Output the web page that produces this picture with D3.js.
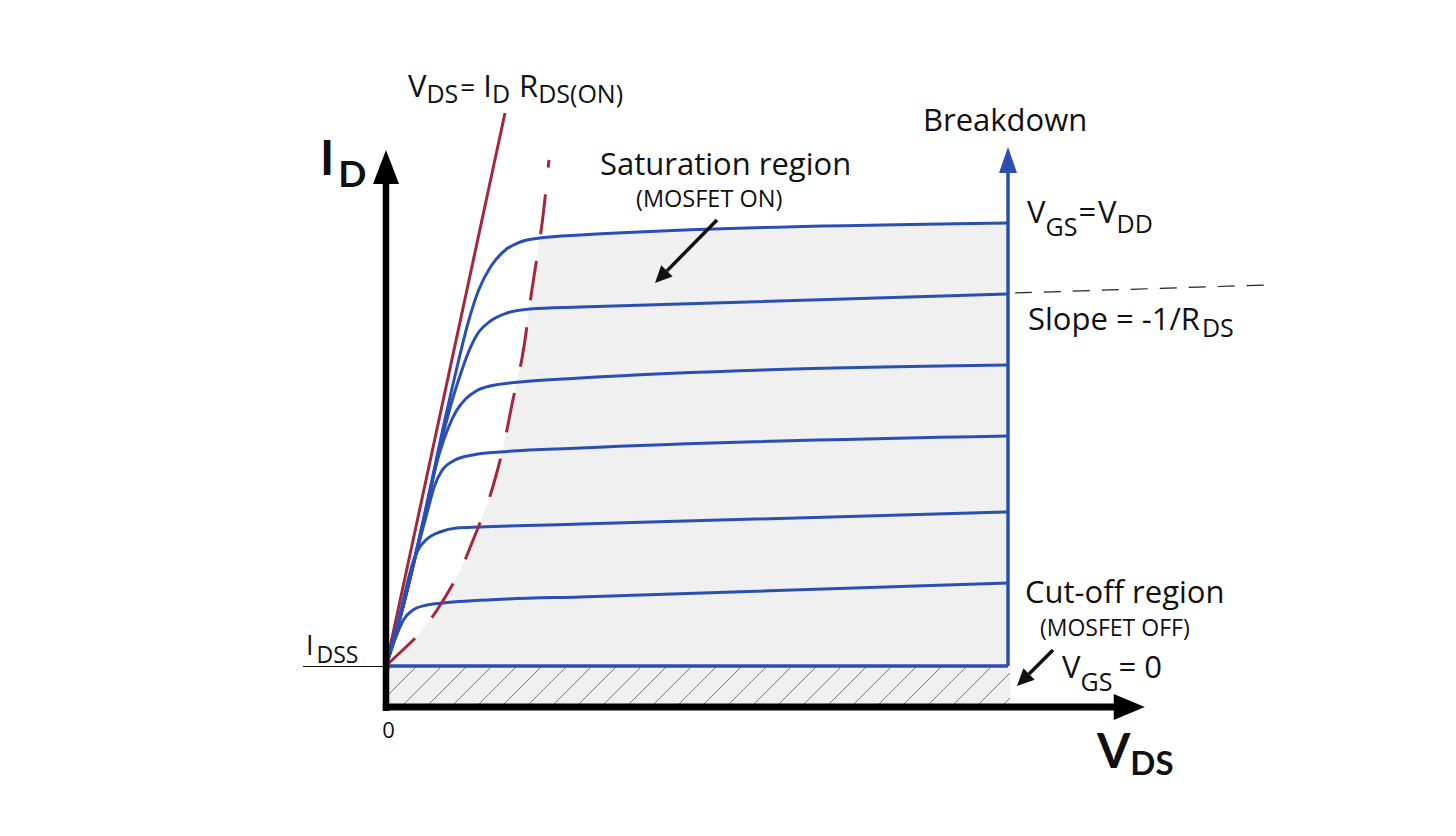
<!DOCTYPE html>
<html><head><meta charset="utf-8">
<script src="https://cdn.jsdelivr.net/npm/d3@7"></script>
<style>
html,body{margin:0;padding:0;background:#fff;}
svg{display:block;}
text{font-family:"Open Sans",Lato,sans-serif;fill:#111;}
</style></head><body>
<svg id="chart" width="1456" height="836"></svg>
<script>
// ---------- data (V_DS in arbitrary units 0..100 = breakdown, I_D in arbitrary units) ----------
const curveNames = ["VGS=VDD", "VGS5", "VGS4", "VGS3", "VGS2", "VGS1"];
const curveTop = [[0,0],[2.6,11.2],[6.0,29.2],[9.1,47.2],[11.5,60.2],[13.1,68.2],[14.9,75.2],[16.9,80],[19.2,83.2],[21.6,84.8],[24.76,85.6],[31.19,86.2],[100,88.6]];
const curve2 = [[0,0],[2.6,11.2],[6.0,28.8],[9.1,46],[10.9,54.2],[12.1,58.8],[13.2,62.6],[14.7,66.4],[16.8,69],[19.45,70.6],[23.15,71.4],[31.19,71.8],[100,74.4]];
const curve3 = [[0,0],[2.6,11.2],[5.9,28.4],[8.5,42.2],[10.0,47.6],[11.4,51.2],[12.8,53.4],[14.5,55],[16.72,56],[21.54,56.8],[31.19,57.6],[100,60.2]];
const curve4 = [[0,0],[2.5,10.8],[5.1,23.6],[6.8,31.6],[7.85,36.2],[8.95,39],[10.8,41],[13.99,42.2],[18.33,42.8],[31.19,43.6],[100,46]];
const curve5 = [[0,0],[2.1,9.6],[3.4,16.4],[4.3,20.6],[5.05,23],[6.6,25.4],[8.68,26.8],[11.41,27.6],[15.11,27.8],[31.19,28.4],[100,30.8]];
const curve6 = [[0,0],[0.7,2.6],[1.85,6.6],[2.8,9.2],[4.34,11.2],[6.59,12.2],[9.16,12.6],[19.45,13.4],[31.19,13.8],[100,16.6]];
const curves = [curveTop, curve2, curve3, curve4, curve5, curve6];
const cutoffLine = [[0,0],[100,0]];
const rdsOnLine = [[0,0],[19.13,110.6]];
const satBoundary = [[0,0],[0.64,0.8],[5.6,6.8],[8.2,11.2],[11.9,19],[14.0,25.2],[16.4,32.8],[17.8,38.6],[19.1,45.2],[20.4,53.2],[21.9,61.8],[23.5,75.6],[25.1,88.6],[26.2,101.2]];
const slopeExt = [[101.1,74.6],[141.3,76.2]];
const breakdownV = 100;
const xAxisLevel = -8.2;      // I_D level of the V_DS axis
const xTicks = [0];
const yTicks = [0];           // I_DSS level

// ---------- scales ----------
const x = d3.scaleLinear().domain([0,100]).range([386,1008]);
const y = d3.scaleLinear().domain([0,100]).range([666,166]);

const BLUE = "#2b4eb2", RED = "#a3283f";
const svg = d3.select("#chart");
const defs = svg.append("defs");
const pat = defs.append("pattern").attr("id","hatch").attr("patternUnits","userSpaceOnUse")
  .attr("width",25).attr("height",25).attr("x",8).attr("y",0);
pat.append("rect").attr("width",25).attr("height",25).attr("fill","#f0f0f0");
pat.append("path").attr("d","M-5,30 L30,-5").attr("stroke","#7a7a7a").attr("stroke-width",1);

const line = d3.line().x(d=>x(d[0])).y(d=>y(d[1]));
const smooth = d3.line().x(d=>x(d[0])).y(d=>y(d[1])).curve(d3.curveMonotoneX);
const smoothB = d3.line().x(d=>x(d[0])).y(d=>y(d[1])).curve(d3.curveCatmullRom.alpha(0.5));

// saturation region fill
const topSat = curveTop[10];
const fillPts = satBoundary.filter(d=>d[1] < topSat[1]).concat(curveTop.filter(d=>d[0] >= topSat[0])).concat([[breakdownV,0]]);
svg.append("path").attr("d", line(fillPts) + "Z").attr("fill","#f0f0f0");

// cut-off hatched band
svg.append("rect").attr("x",x(0)).attr("y",y(0)).attr("width",x(breakdownV)+2-x(0)).attr("height",y(xAxisLevel)-y(0))
  .attr("fill","url(#hatch)");

// I_DSS tick (axis left)
const yAx = svg.append("g").attr("transform",`translate(${x(0)},0)`)
  .call(d3.axisLeft(y).tickValues(yTicks).tickSize(83).tickFormat(()=>""));
yAx.select(".domain").remove();
yAx.selectAll("line").attr("stroke","#111").attr("stroke-width",1.2);

// R_DS(on) line under the curves
svg.append("path").attr("d", line(rdsOnLine)).attr("fill","none").attr("stroke",RED).attr("stroke-width",3);

// characteristic curves
svg.selectAll("path.curve").data(curves).join("path").attr("class","curve")
  .attr("d", smooth).attr("fill","none").attr("stroke",BLUE).attr("stroke-width",3).attr("stroke-linejoin","round");
svg.append("path").attr("d", line(cutoffLine)).attr("fill","none").attr("stroke",BLUE).attr("stroke-width",3.5);

// breakdown line + arrow
svg.append("path").attr("d", line([[breakdownV,0],[breakdownV,98.8]])).attr("stroke",BLUE).attr("stroke-width",3.5).attr("fill","none");
svg.append("path").attr("d", `M${x(breakdownV)},${y(103.8)} L${x(breakdownV)-9},${y(98.6)} L${x(breakdownV)+9},${y(98.6)} Z`).attr("fill",BLUE);

// saturation boundary (dashed)
svg.append("path").attr("d", smoothB(satBoundary)).attr("fill","none").attr("stroke",RED).attr("stroke-width",3)
  .attr("stroke-dasharray","40,27");

// slope extension dashed
svg.append("path").attr("d", line(slopeExt)).attr("fill","none").attr("stroke","#222").attr("stroke-width",1.2)
  .attr("stroke-dasharray","17,12");

// axes (thick arrows)
const ax0 = x(0), ayl = y(xAxisLevel);
svg.append("path").attr("d", `M${ax0},${ayl+4} L${ax0},${y(96.6)}`).attr("stroke","#000").attr("stroke-width",6.5);
svg.append("path").attr("d", `M${ax0},${y(103.2)} L${ax0-13},${y(96.4)} L${ax0+13},${y(96.4)} Z`).attr("fill","#000");
svg.append("path").attr("d", `M${ax0-3.2},${ayl} L${x(117.2)},${ayl}`).attr("stroke","#000").attr("stroke-width",7);
svg.append("path").attr("d", `M${x(122)},${ayl} L${x(117)},${ayl-13} L${x(117)},${ayl+13} Z`).attr("fill","#000");

const xAx = svg.append("g").attr("transform",`translate(0,${ayl})`)
  .call(d3.axisBottom(x).tickValues(xTicks).tickSize(0).tickPadding(15));
xAx.select(".domain").remove();
xAx.selectAll("text").attr("font-size",22).attr("font-family","Open Sans").attr("fill","#111").attr("dx",2);

// ---------- text helpers ----------
// part: [text, x|null, y, size, weight, dx, family]
function label(parts){
  const t = svg.append("text");
  parts.forEach(p=>{
    const s = t.append("tspan").attr("y",p[2]).attr("font-size",p[3]).attr("font-weight",p[4]||400).text(p[0]);
    if (p[1] != null) s.attr("x",p[1]);
    if (p[5]) s.attr("dx",p[5]);
    if (p[6]) s.attr("font-family",p[6]);
  });
  return t;
}
label([["V",408,97,31],["DS",null,103,25],["=",null,97,26,400,2],["I",null,97,31,400,8],["D",null,103,25],["R",null,97,31,400,9],["DS(ON)",null,103,25]]);
label([["I",320,175,48,700,0,"Lato"],["D",null,187,37,700,4,"Lato"]]);
label([["V",1097,768,48,700,0,"Lato"],["DS",null,775,33,700,0,"Lato"]]);
label([["Saturation region",600,175,31]]);
label([["(MOSFET ON)",636,207,23.5]]);
label([["Breakdown",923,131,31]]);
label([["V",1027,223,31],["GS",null,236,25],["=",null,223,31,400,1],["V",null,223,31,400,2],["DD",null,233,25]]);
label([["Slope = -1/R",1028,330,31],["DS",null,337,25,400,2]]);
label([["Cut-off region",1025,603,31]]);
label([["(MOSFET OFF)",1040,636,23]]);
label([["V",1062,678,31],["GS",null,691,25],["= 0",null,678,31,400,6]]);
label([["I",306,655,27],["DSS",null,663,23,400,3]]);

// annotation arrows
function arrow(x1,y1,x2,y2){
  const dx=x2-x1, dy=y2-y1, L=Math.hypot(dx,dy), ux=dx/L, uy=dy/L;
  const hl=17, hw=8;
  const bx=x2-ux*hl, by=y2-uy*hl;
  svg.append("path").attr("d",`M${x1},${y1} L${bx},${by}`).attr("stroke","#111").attr("stroke-width",3.5);
  svg.append("path").attr("d",`M${x2},${y2} L${bx-uy*hw},${by+ux*hw} L${bx+uy*hw},${by-ux*hw} Z`).attr("fill","#111");
}
arrow(717,220,655,283);
arrow(1053,650,1017,686);
</script>
</body></html>
